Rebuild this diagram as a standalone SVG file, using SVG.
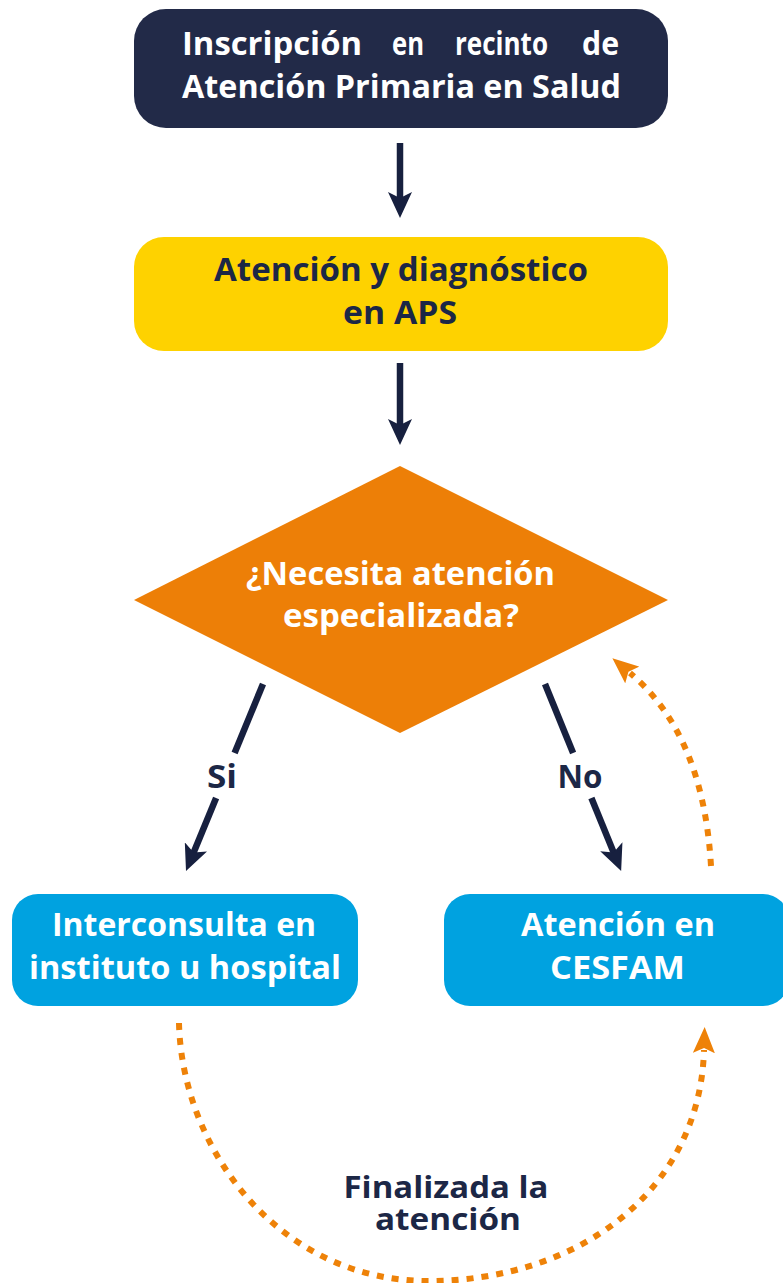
<svg xmlns="http://www.w3.org/2000/svg" width="783" height="1283" viewBox="0 0 783 1283">
<style>
.t{font-family:"Open Sans","Noto Sans","DejaVu Sans",sans-serif;font-weight:700;font-size:32px}
.s{font-size:30px}
.w{fill:#ffffff}
.n{fill:#1c2746}
.ln{stroke:#17203f;stroke-width:6.5;fill:none}
.dot{stroke:#ee8208;stroke-width:6;stroke-dasharray:7 8;fill:none}
</style>
<defs>
<marker id="ah" markerUnits="userSpaceOnUse" viewBox="0 0 26 24" markerWidth="26" markerHeight="24" refX="10" refY="12" orient="auto">
<path d="M0,0 L26,12 L0,24 L6,12 z" fill="#17203f"/>
</marker>
<marker id="oh" markerUnits="userSpaceOnUse" viewBox="0 0 26 22" markerWidth="26" markerHeight="22" refX="3" refY="11" orient="auto">
<path d="M0,0 L26,11 L0,22 L5,11 z" fill="#ee8208"/>
</marker>
</defs>

<g id="node-inscripcion">
<rect x="134" y="9" width="534" height="119" rx="32" fill="#222a48"/>
<text class="t w" x="182" y="55" textLength="180" lengthAdjust="spacingAndGlyphs">Inscripción</text>
<text class="t w" x="392" y="55" textLength="32" lengthAdjust="spacingAndGlyphs">en</text>
<text class="t w" x="455" y="55" textLength="93" lengthAdjust="spacingAndGlyphs">recinto</text>
<text class="t w" x="582" y="55" textLength="37" lengthAdjust="spacingAndGlyphs">de</text>
<text class="t w" x="182" y="98" textLength="439" lengthAdjust="spacingAndGlyphs">Atención Primaria en Salud</text>
</g>

<g id="node-atencion-aps">
<rect x="134" y="237" width="534" height="114" rx="30" fill="#fed200"/>
<text class="t n" x="214" y="281" textLength="374" lengthAdjust="spacingAndGlyphs">Atención y diagnóstico</text>
<text class="t n" x="343" y="324" textLength="114" lengthAdjust="spacingAndGlyphs">en APS</text>
</g>

<g id="node-decision">
<polygon points="134,600 400,466 668,600 400,733" fill="#ed7f07"/>
<text class="t w" x="246" y="585" textLength="309" lengthAdjust="spacingAndGlyphs">¿Necesita atención</text>
<text class="t w" x="283" y="627" textLength="236" lengthAdjust="spacingAndGlyphs">especializada?</text>
</g>

<g id="node-interconsulta">
<rect x="12" y="894" width="346" height="112" rx="26" fill="#00a2e0"/>
<text class="t w" x="52" y="936" textLength="264" lengthAdjust="spacingAndGlyphs">Interconsulta en</text>
<text class="t w" x="29" y="979" textLength="312" lengthAdjust="spacingAndGlyphs">instituto u hospital</text>
</g>

<g id="node-cesfam">
<rect x="444" y="894" width="345" height="112" rx="26" fill="#00a2e0"/>
<text class="t w" x="521" y="936" textLength="194" lengthAdjust="spacingAndGlyphs">Atención en</text>
<text class="t w" x="550" y="979" textLength="135" lengthAdjust="spacingAndGlyphs">CESFAM</text>
</g>

<g id="connectors">
<line class="ln" x1="400" y1="143" x2="400" y2="202" marker-end="url(#ah)"/>
<line class="ln" x1="400" y1="363" x2="400" y2="429" marker-end="url(#ah)"/>
<line class="ln" x1="263" y1="684" x2="234.6" y2="753"/>
<line class="ln" x1="216.1" y1="798" x2="192.1" y2="856.2" marker-end="url(#ah)"/>
<line class="ln" x1="545" y1="684" x2="573.1" y2="753"/>
<line class="ln" x1="591.4" y1="798" x2="615.1" y2="856.1" marker-end="url(#ah)"/>
<text class="t n" x="222" y="788" text-anchor="middle" textLength="30" lengthAdjust="spacingAndGlyphs">Si</text>
<text class="t n" x="580" y="788" text-anchor="middle" textLength="45" lengthAdjust="spacingAndGlyphs">No</text>
<path class="dot" d="M179,1023 C182,1150 280,1282 430,1281 C580,1280 700,1190 704,1050" marker-end="url(#oh)"/>
<path class="dot" d="M711,866 C706,780 680,715 630,673" marker-end="url(#oh)"/>
<text class="t s n" x="446" y="1198" text-anchor="middle" textLength="205" lengthAdjust="spacingAndGlyphs">Finalizada la</text>
<text class="t s n" x="448" y="1230" text-anchor="middle" textLength="146" lengthAdjust="spacingAndGlyphs">atención</text>
</g>
</svg>
